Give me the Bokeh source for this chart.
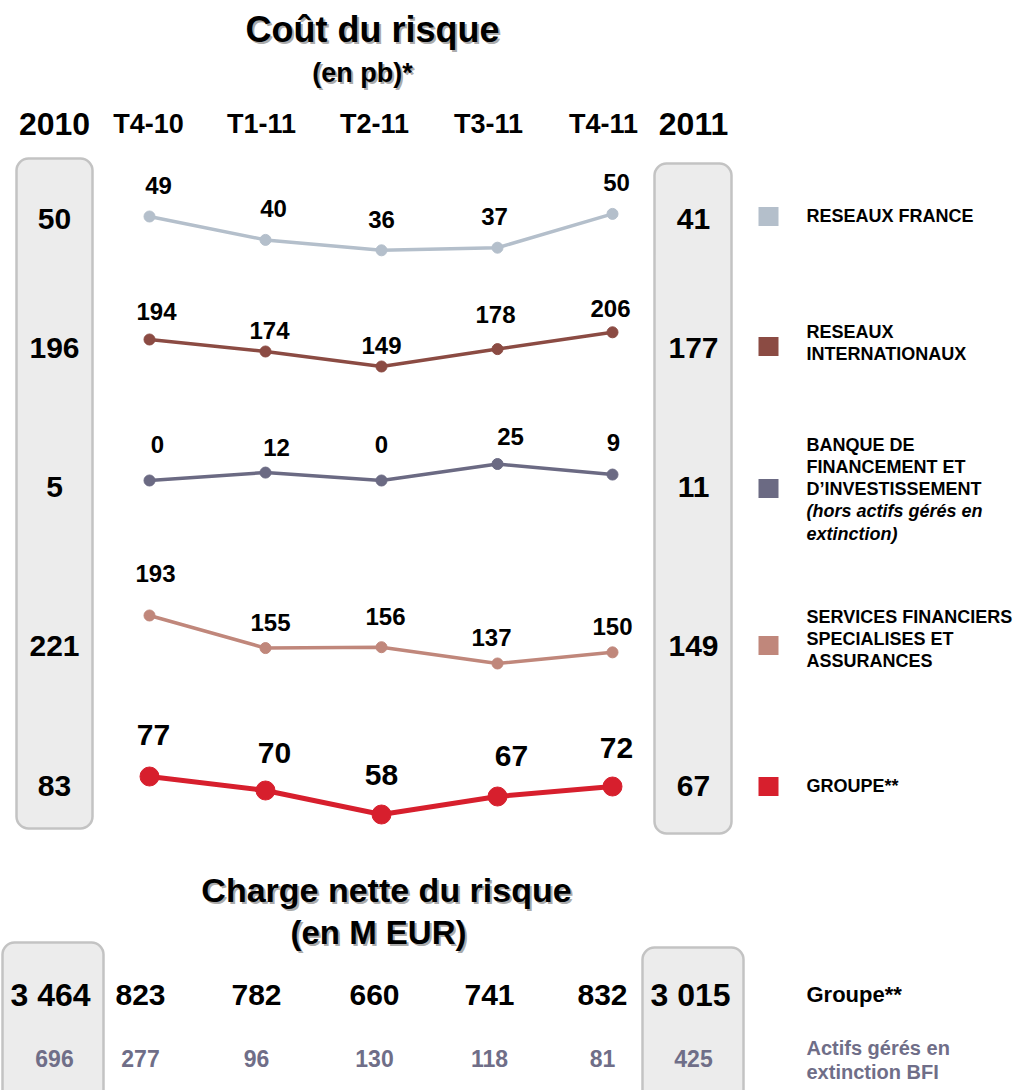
from bokeh.plotting import figure
from bokeh.models import Range1d
from bokeh.core.properties import value
from bokeh.embed import file_html
from bokeh.resources import INLINE

# ---------------- data ----------------
quarters = ["T4-10", "T1-11", "T2-11", "T3-11", "T4-11"]
year_start = "2010"
year_end = "2011"

reseaux_france = [49, 40, 36, 37, 50]
reseaux_internationaux = [194, 174, 149, 178, 206]
banque_financement = [0, 12, 0, 25, 9]
services_financiers = [193, 155, 156, 137, 150]
groupe = [77, 70, 58, 67, 72]

annual_2010 = [50, 196, 5, 221, 83]
annual_2011 = [41, 177, 11, 149, 67]

legend_labels = [
    ["RESEAUX FRANCE"],
    ["RESEAUX", "INTERNATIONAUX"],
    ["BANQUE DE", "FINANCEMENT ET", "D\u2019INVESTISSEMENT",
     "(hors actifs g\u00e9r\u00e9s en", "extinction)"],
    ["SERVICES FINANCIERS", "SPECIALISES ET", "ASSURANCES"],
    ["GROUPE**"],
]
legend_italic = [[False], [False, False], [False, False, False, True, True],
                 [False, False, False], [False]]

charge_groupe_2010 = 3464
charge_groupe_quarters = [823, 782, 660, 741, 832]
charge_groupe_2011 = 3015
actifs_extinction_2010 = 696
actifs_extinction_quarters = [277, 96, 130, 118, 81]
actifs_extinction_2011 = 425

title_top = "Co\u00fbt du risque"
subtitle_top = "(en pb)*"
title_bottom = "Charge nette du risque"
subtitle_bottom = "(en M EUR)"
bottom_row_labels = ["Groupe**"]
bottom_row2_labels = ["Actifs g\u00e9r\u00e9s en", "extinction BFI"]

# ---------------- layout / styles ----------------
FONT = value("Liberation Sans")
W, H = 1020, 1090
X0, Y0 = 0, 0

series_values = [reseaux_france, reseaux_internationaux, banque_financement,
                 services_financiers, groupe]
colors = ["#b4bfcb", "#8b4b43", "#6b6a83", "#c0877b", "#d71f2d"]
zero_px = [343.4, 455.4, 480.0, 780.4, 930.0]     # pixel of value 0 per band
px_per_unit = [2.6, 0.6, 0.66, 0.857, 2.0]
marker_sizes = [11, 11, 11, 11, 19]
line_widths = [3.5, 3.5, 3.5, 3.5, 5]
label_sizes = ["24px", "24px", "24px", "24px", "30px"]
label_lift = [[31, 31, 31, 31, 31],
              [28, 21, 21, 35, 24],
              [36, 25, 36, 28, 32],
              [42, 26, 31, 26, 26],
              [42, 38, 40, 41, 39]]
label_dx = [[9, 8, 0, -3, 4],
            [7, 4, 0, -2, -2],
            [8, 11, 0, 13, 1],
            [6, 5, 4, -6, 0],
            [4, 9, 0, 14, 4]]

point_x = [149, 265, 381, 497, 612]
header_x = [148, 261, 374, 488, 603]
row_y = [218, 347, 486, 645, 785]
legend_sq_y = [216, 346, 488, 645, 786]
legend_first_line_y = [215, 331, 444, 616, 785]
left_x, right_x = 54, 693

p = figure(width=W, height=H, x_range=Range1d(X0, X0 + W),
           y_range=Range1d(Y0 + H, Y0), output_backend="svg",
           toolbar_location=None, min_border=0,
           x_axis_location=None, y_axis_location=None)
p.grid.visible = False
p.outline_line_color = None
p.background_fill_color = "white"
p.border_fill_color = "white"


def txt(x, y, t, size, color="black", style="bold", align="center", shadow=False):
    if shadow:
        p.text(x=[xx + 2 for xx in x], y=[yy + 2 for yy in y], text=t,
               text_font=FONT, text_font_style=style, text_font_size=size,
               text_color="#a0a0a0", text_alpha=0.9, text_align=align,
               text_baseline="middle")
    p.text(x=x, y=y, text=t, text_font=FONT, text_font_style=style,
           text_font_size=size, text_color=color, text_align=align,
           text_baseline="middle")


# boxes
box_fill, box_line = "#ececec", "#c3c3c3"
p.quad(left=[16, 654], right=[92, 731], top=[158, 163], bottom=[828, 833],
       fill_color=box_fill, line_color=box_line, line_width=2.5, border_radius=12)
p.quad(left=[2, 642], right=[103, 743], top=[942, 947], bottom=[1110, 1110],
       fill_color=box_fill, line_color=box_line, line_width=2.5, border_radius=12)

# titles
txt([372], [29], [title_top], "36px", shadow=True)
txt([362], [72], [subtitle_top], "27px", shadow=True)
txt([386], [889], [title_bottom], "34px", shadow=True)
txt([378], [932], [subtitle_bottom], "33px", shadow=True)

# header
txt([left_x], [123], [year_start], "32px")
txt([right_x], [123], [year_end], "32px")
txt(header_x, [123] * 5, quarters, "27px")

# annual values in boxes
txt([left_x] * 5, row_y, [str(v) for v in annual_2010], "30px")
txt([right_x] * 5, row_y, [str(v) for v in annual_2011], "30px")

# series
for i, vals in enumerate(series_values):
    k = px_per_unit[i]
    z = zero_px[i]
    name = f"s{i}"
    p.extra_y_ranges[name] = Range1d(-(Y0 + H - z) / k, (z - Y0) / k)
    p.line(point_x, vals, color=colors[i], line_width=line_widths[i],
           y_range_name=name)
    p.scatter(point_x, vals, size=marker_sizes[i], color=colors[i],
              y_range_name=name)
    p.text(x=[px + d for px, d in zip(point_x, label_dx[i])],
           y=[v + l / k for v, l in zip(vals, label_lift[i])],
           text=[str(v) for v in vals], y_range_name=name,
           text_font=FONT, text_font_style="bold", text_font_size=label_sizes[i],
           text_color="black", text_align="center", text_baseline="middle")

# legend
p.rect(x=[768] * 5, y=legend_sq_y, width=20, height=19, fill_color=colors,
       line_color=None)
for i, lines in enumerate(legend_labels):
    for j, line in enumerate(lines):
        style = "bold italic" if legend_italic[i][j] else "bold"
        txt([806], [legend_first_line_y[i] + 22.3 * j], [line], "18px",
            style=style, align="left")


# bottom table
def fmt(v):
    return f"{v:,}".replace(",", " ")


col_x = [140, 256, 374, 489, 602]
txt([50], [994], [fmt(charge_groupe_2010)], "32px")
txt(col_x, [994] * 5, [fmt(v) for v in charge_groupe_quarters], "30px")
txt([690], [994], [fmt(charge_groupe_2011)], "32px")
grey = "#6f6e88"
txt([54], [1058], [fmt(actifs_extinction_2010)], "23px", color=grey)
txt(col_x, [1058] * 5, [fmt(v) for v in actifs_extinction_quarters], "23px", color=grey)
txt([693], [1058], [fmt(actifs_extinction_2011)], "23px", color=grey)
txt([806], [994], bottom_row_labels, "22px", align="left")
txt([806, 806], [1047, 1071], bottom_row2_labels, "20px", color=grey, align="left")

open("out.html", "w").write(file_html(p, INLINE))
